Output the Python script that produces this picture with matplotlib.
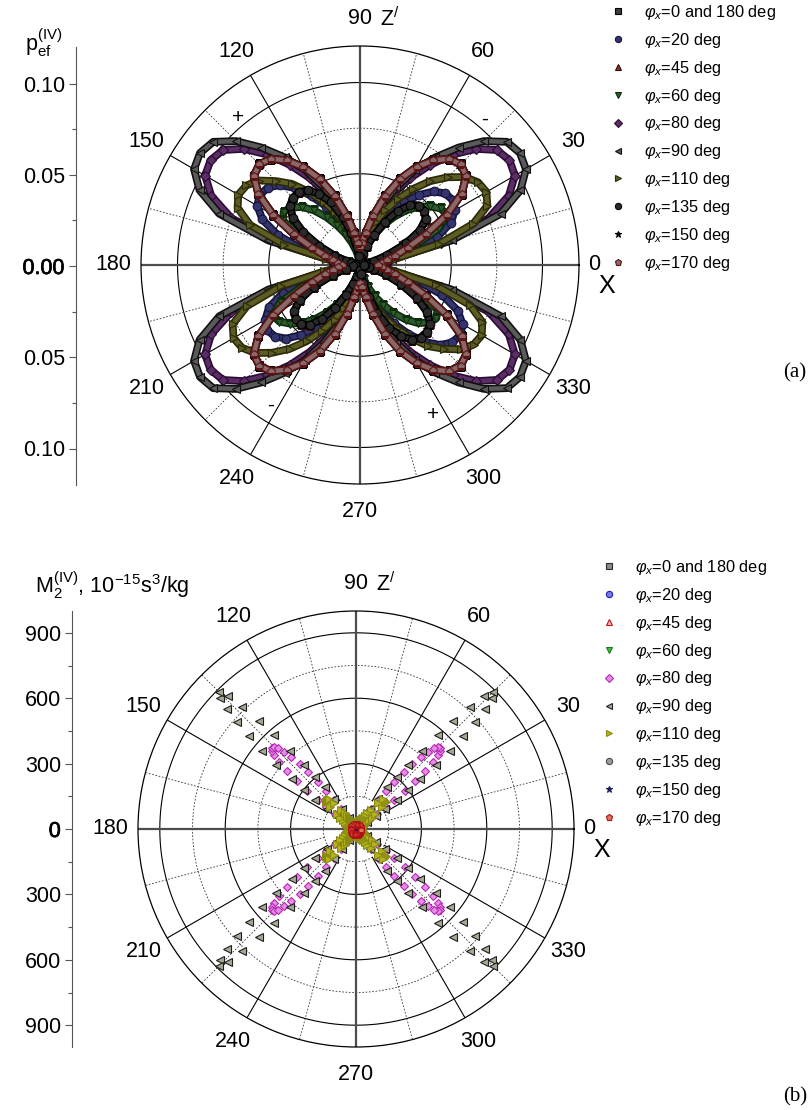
import numpy as np
import matplotlib
matplotlib.use("Agg")
import matplotlib.pyplot as plt
from matplotlib import patheffects as pe
from matplotlib.lines import Line2D
from matplotlib.ticker import MultipleLocator, FuncFormatter

plt.rcParams['font.family'] = ['Liberation Sans', 'DejaVu Sans']
plt.rcParams['mathtext.fontset'] = 'custom'
plt.rcParams['mathtext.rm'] = 'Liberation Sans'
plt.rcParams['mathtext.it'] = 'Liberation Sans:italic'
plt.rcParams['mathtext.bf'] = 'Liberation Sans:bold'

# ******************
# (a) p_ef(IV) against the polar angle, 5 deg steps over 0..175 deg
#     (the pattern repeats after 180 deg)
# ******************
theta_a = np.arange(0, 180, 5)

pef_20 = [0.002, 0.005, 0.014, 0.030, 0.045, 0.055, 0.060, 0.062, 0.061, 0.057, 0.050, 0.042,
          0.034, 0.026, 0.019, 0.012, 0.007, 0.004, 0.002, 0.004, 0.007, 0.013, 0.021, 0.029,
          0.037, 0.046, 0.055, 0.062, 0.066, 0.067, 0.065, 0.059, 0.048, 0.032, 0.015, 0.005]
pef_60 = [0.001, 0.002, 0.006, 0.016, 0.033, 0.048, 0.055, 0.054, 0.050, 0.045, 0.039, 0.032,
          0.025, 0.018, 0.012, 0.007, 0.004, 0.002, 0.001, 0.002, 0.004, 0.008, 0.013, 0.019,
          0.025, 0.032, 0.039, 0.045, 0.049, 0.051, 0.049, 0.034, 0.015, 0.006, 0.002, 0.001]
pef_80 = [0.003, 0.007, 0.016, 0.046, 0.075, 0.090, 0.098, 0.100, 0.098, 0.090, 0.079, 0.067,
          0.055, 0.043, 0.032, 0.022, 0.013, 0.006, 0.003, 0.006, 0.013, 0.022, 0.032, 0.043,
          0.055, 0.067, 0.079, 0.090, 0.098, 0.100, 0.098, 0.090, 0.075, 0.046, 0.016, 0.007]
pef_90 = [0.004, 0.008, 0.018, 0.052, 0.082, 0.097, 0.105, 0.107, 0.105, 0.096, 0.084, 0.072,
          0.060, 0.047, 0.035, 0.024, 0.014, 0.007, 0.003, 0.007, 0.014, 0.024, 0.035, 0.047,
          0.060, 0.072, 0.084, 0.096, 0.105, 0.107, 0.105, 0.097, 0.082, 0.052, 0.018, 0.008]
pef_110 = [0.003, 0.006, 0.020, 0.045, 0.066, 0.077, 0.080, 0.079, 0.075, 0.068, 0.060, 0.051,
           0.042, 0.033, 0.025, 0.017, 0.010, 0.005, 0.003, 0.005, 0.010, 0.016, 0.024, 0.032,
           0.040, 0.049, 0.058, 0.065, 0.072, 0.076, 0.077, 0.074, 0.064, 0.043, 0.019, 0.006]
pef_135 = [0.002, 0.003, 0.004, 0.008, 0.016, 0.028, 0.038, 0.044, 0.046, 0.046, 0.043, 0.036,
           0.027, 0.018, 0.011, 0.006, 0.004, 0.003, 0.003, 0.005, 0.010, 0.018, 0.028, 0.038,
           0.045, 0.050, 0.052, 0.052, 0.050, 0.045, 0.036, 0.025, 0.015, 0.008, 0.005, 0.003]
pef_170 = [0.010, 0.012, 0.015, 0.020, 0.028, 0.040, 0.055, 0.068, 0.076, 0.078, 0.076, 0.070,
           0.062, 0.052, 0.040, 0.028, 0.018, 0.012, 0.010, 0.012, 0.018, 0.028, 0.040, 0.052,
           0.062, 0.070, 0.076, 0.078, 0.076, 0.068, 0.055, 0.040, 0.028, 0.020, 0.015, 0.012]
# these three coincide with other curves and lie underneath them
pef_0_180 = list(pef_170)
pef_45 = list(pef_135)
pef_150 = list(pef_170)

# ******************
# (b) M2(IV) in 1e-15 s^3/kg; lobes around 45 deg, mirrored into the
#     other three quadrants
# ******************
theta_lobe = np.arange(33, 58)          # 1 deg steps
m2_80 = [40, 80, 120, 170, 220, 285, 350, 415, 470, 505, 525, 533, 530,
         515, 485, 445, 395, 340, 280, 220, 165, 115, 75, 40, 20]
m2_90 = [60, 110, 160, 230, 300, 370, 470, 560, 650, 735, 810, 865, 890,
         845, 765, 665, 570, 470, 380, 305, 240, 170, 110, 60, 25]

theta_quad = np.arange(0, 92, 2)        # 2 deg steps, 0..90 deg
m2_110 = [20, 20, 21, 22, 23, 24, 25, 27, 28, 30, 33, 35, 39, 42, 47, 53,
          61, 72, 88, 113, 158, 184, 184, 184, 184, 158, 113, 88, 72, 61,
          53, 47, 42, 39, 35, 33, 30, 28, 27, 25, 24, 23, 22, 21, 20, 20]

# small curves around the origin, 15 deg steps
theta_ring = np.arange(0, 360, 15)
m2_0_180 = [2, 6, 10, 12, 10, 6, 2, 6, 10, 12, 10, 6, 2, 6, 10, 12, 10, 6, 2, 6, 10, 12, 10, 6]
m2_20 = [3, 7, 11, 13, 11, 7, 3, 7, 11, 13, 11, 7, 3, 7, 11, 13, 11, 7, 3, 7, 11, 13, 11, 7]
m2_45 = [4, 8, 12, 15, 12, 8, 4, 8, 12, 15, 12, 8, 4, 8, 12, 15, 12, 8, 4, 8, 12, 15, 12, 8]
m2_60 = [4, 9, 14, 17, 14, 9, 4, 9, 14, 17, 14, 9, 4, 9, 14, 17, 14, 9, 4, 9, 14, 17, 14, 9]
m2_135 = [3, 8, 12, 14, 12, 8, 3, 8, 12, 14, 12, 8, 3, 8, 12, 14, 12, 8, 3, 8, 12, 14, 12, 8]
m2_150 = [2, 5, 9, 11, 9, 5, 2, 5, 9, 11, 9, 5, 2, 5, 9, 11, 9, 5, 2, 5, 9, 11, 9, 5]
m2_170 = [24, 24, 24, 24, 24, 24, 24, 24, 24, 24, 24, 24,
          24, 24, 24, 24, 24, 24, 24, 24, 24, 24, 24, 24]

phi_labels = ['0 and 180', '20', '45', '60', '80', '90', '110', '135', '150', '170']

# marker, face colour, edge colour
style_a = [('s', '#3c3c3c', '#000000'), ('o', '#34346e', '#14143c'),
           ('^', '#7a3434', '#3c0c0c'), ('v', '#2e5a2e', '#0c2c0c'),
           ('D', '#5c2e66', '#2a0c34'), ('<', '#5a5a5a', '#101010'),
           ('>', '#5c5c24', '#2a2a08'), ('o', '#2a2a2a', '#000000'),
           ('*', '#1a1a1a', '#000000'), ('p', '#8a6868', '#5a1414')]
style_b = [('s', '#8c8c8c', '#2a2a2a'), ('o', '#7c7ce0', '#1c1cb4'),
           ('^', '#f0b4b4', '#c01818'), ('v', '#3cc43c', '#1a7a1a'),
           ('D', '#e88ce8', '#b428b4'), ('<', '#a8a894', '#1e1e1e'),
           ('>', '#b4b41e', '#8a8a10'), ('o', '#9c9c9c', '#4a4a4a'),
           ('*', '#1e1e5a', '#1e1e5a'), ('p', '#e07060', '#b01010')]

W, H = 810, 1110
fig = plt.figure(figsize=(W / 100, H / 100), dpi=100)


def px(x, y):
    return x / W, 1 - y / H


def polar_frame(cx, cy, rpx, rmax, rings, solid):
    ax = fig.add_axes([(cx - rpx) / W, 1 - (cy + rpx) / H, 2 * rpx / W, 2 * rpx / H],
                      projection='polar')
    ax.set_theta_zero_location('E')
    ax.set_ylim(0, rmax)
    ax.set_xticks([])
    ax.set_yticks([])
    ax.grid(False)
    ax.spines['polar'].set_linewidth(0.9)
    circ = np.linspace(0, 2 * np.pi, 721)
    for r in rings:
        if r in solid:
            ax.plot(circ, np.full_like(circ, r), color='k', lw=0.8, zorder=1)
        else:
            ax.plot(circ, np.full_like(circ, r), color='#333333', lw=0.6,
                    ls=(0, (2, 2)), zorder=1)
    for d in range(15, 360, 15):
        if d % 90 == 0:
            continue
        a = np.radians(d)
        if d % 30 == 0:
            ax.plot([a, a], [rings[0], rmax], color='k', lw=0.8, zorder=1)
        else:
            ax.plot([a, a], [rings[0], rmax], color='#333333', lw=0.6,
                    ls=(0, (2, 2)), zorder=1)
    for d in (0, 90, 180, 270):
        a = np.radians(d)
        ax.plot([a, a], [0, rmax], color='#4d4d4d', lw=1.6, zorder=1)
    for d in range(0, 360, 30):
        f = 1.07 if d == 0 else 1.125
        a = np.radians(d)
        ax.text(0.5 + f * np.cos(a) / 2, 0.5 + f * np.sin(a) / 2, str(d),
                transform=ax.transAxes, ha='center', va='center', fontsize=15.5)
    ax.text(1.064, 0.452, 'X', transform=ax.transAxes, ha='center', va='center',
            fontsize=18)
    ax.text(0.568, 1.062, r'Z$^{/}$', transform=ax.transAxes, ha='center', va='center',
            fontsize=15.5)
    return ax


def side_axis(x, cy, rpx, lim, major, minor, fmt):
    sa = fig.add_axes([x / W, 1 - (cy + rpx) / H, 0.001, 2 * rpx / H])
    sa.patch.set_visible(False)
    sa.set_ylim(-lim, lim)
    for s in ('top', 'right', 'bottom'):
        sa.spines[s].set_visible(False)
    sa.spines['left'].set_color('#555555')
    sa.set_xticks([])
    sa.yaxis.set_major_locator(MultipleLocator(major))
    sa.yaxis.set_minor_locator(MultipleLocator(minor))
    sa.yaxis.set_major_formatter(FuncFormatter(lambda v, p: fmt.format(abs(v))))
    sa.tick_params(axis='y', which='major', length=5, width=0.8, color='#555555',
                   labelsize=15.5, pad=3, direction='out')
    sa.tick_params(axis='y', which='minor', length=3, width=0.8, color='#555555',
                   direction='out')
    return sa


def legend(x, y, styles, ms):
    handles = [Line2D([], [], ls='none', marker=m, mfc=fc, mec=ec, mew=0.8,
                      ms=ms * (0.8 if m == 'D' else 1.0)) for m, fc, ec in styles]
    labels = [r'$\varphi_x$=' + s + ' deg' for s in phi_labels]
    fig.legend(handles, labels, loc='upper left', bbox_to_anchor=px(x, y),
               frameon=False, fontsize=11.8, handlelength=0.8, handletextpad=1.2,
               labelspacing=0.54, borderaxespad=0, borderpad=0)


# ---------------- (a) ----------------
ax_a = polar_frame(360, 265, 219, 0.12, [0.025, 0.05, 0.075, 0.1], [0.05, 0.1])
curves_a = [pef_0_180, pef_20, pef_45, pef_60, pef_80, pef_90, pef_110, pef_135,
            pef_150, pef_170]
th_a = np.radians(np.concatenate([theta_a, theta_a + 180, [360]]))
for i, (vals, (m, fc, ec)) in enumerate(zip(curves_a, style_a)):
    r = np.concatenate([vals, vals, vals[:1]])
    ax_a.plot(th_a, r, color=fc, lw=3.2, solid_capstyle='round', solid_joinstyle='round',
              zorder=3 + 2 * i,
              path_effects=[pe.Stroke(linewidth=5.6, foreground=ec), pe.Normal()])
    ax_a.plot(th_a, r, ls='none', marker=m, ms=6.2 * (0.8 if m == 'D' else 1.0),
              mfc=fc, mec=ec, mew=0.8, zorder=4 + 2 * i)

for ang, rr, s in [(129.7, 0.105, '+'), (49.6, 0.105, '-'), (237.3, 0.091, '-'),
                   (296.0, 0.091, '+')]:
    ax_a.text(np.radians(ang), rr, s, ha='center', va='center', fontsize=15, zorder=30)

sa_a = side_axis(76, 266, 219, 0.12, 0.05, 0.025, '{:.2f}')
fig.text(*px(25, 43), r'$\mathrm{p}_{\mathrm{ef}}^{\mathrm{(IV)}}$', fontsize=15.5,
         ha='left', va='center')
legend(611, 3, style_a, 4.5)
fig.text(*px(795, 373), '(a)', family='Liberation Serif', fontsize=15, ha='center',
         va='center')

# ---------------- (b) ----------------
ax_b = polar_frame(356, 829, 218, 1000, [150, 300, 450, 600, 750, 900], [300, 600, 900])
th_lobe = np.radians(np.concatenate([theta_lobe, 180 - theta_lobe, 180 + theta_lobe,
                                     360 - theta_lobe]))
th_quad = np.radians(np.concatenate([theta_quad, 180 - theta_quad, 180 + theta_quad,
                                     360 - theta_quad]))
curves_b = {0: (theta_ring, m2_0_180), 1: (theta_ring, m2_20), 2: (theta_ring, m2_45),
            3: (theta_ring, m2_60), 4: (None, m2_80), 5: (None, m2_90),
            6: ('quad', m2_110), 7: (theta_ring, m2_135), 8: (theta_ring, m2_150),
            9: (theta_ring, m2_170)}
for i, (m, fc, ec) in enumerate(style_b):
    grid, vals = curves_b[i]
    if grid is None:
        th, r = th_lobe, np.tile(vals, 4)
    elif isinstance(grid, str):
        th, r = th_quad, np.tile(vals, 4)
    else:
        th, r = np.radians(grid), np.asarray(vals)
    size = 4.6 if i == 9 else 5.6
    ax_b.plot(th, r, ls='none', marker=m, ms=size * (0.8 if m == 'D' else 1.0),
              mfc=fc, mec=ec, mew=0.8, zorder=4 + i)

sa_b = side_axis(72, 829, 218, 1000, 300, 150, '{:.0f}')
fig.text(*px(35, 585), r'$\mathrm{M}_{2}^{\mathrm{(IV)}}$, 10$^{\mathrm{-15}}$s$^{3}$/kg',
         fontsize=15.5, ha='left', va='center')
legend(602, 558, style_b, 4.5)
fig.text(*px(795, 1097), '(b)', family='Liberation Serif', fontsize=15, ha='center',
         va='center')

# the zero labels are printed heavier
fig.canvas.draw()
for sa in (sa_a, sa_b):
    for t in sa.get_yticklabels():
        if t.get_text() in ('0.00', '0'):
            t.set_path_effects([pe.withStroke(linewidth=0.5, foreground='black')])

fig.savefig('out.png', dpi=100)
